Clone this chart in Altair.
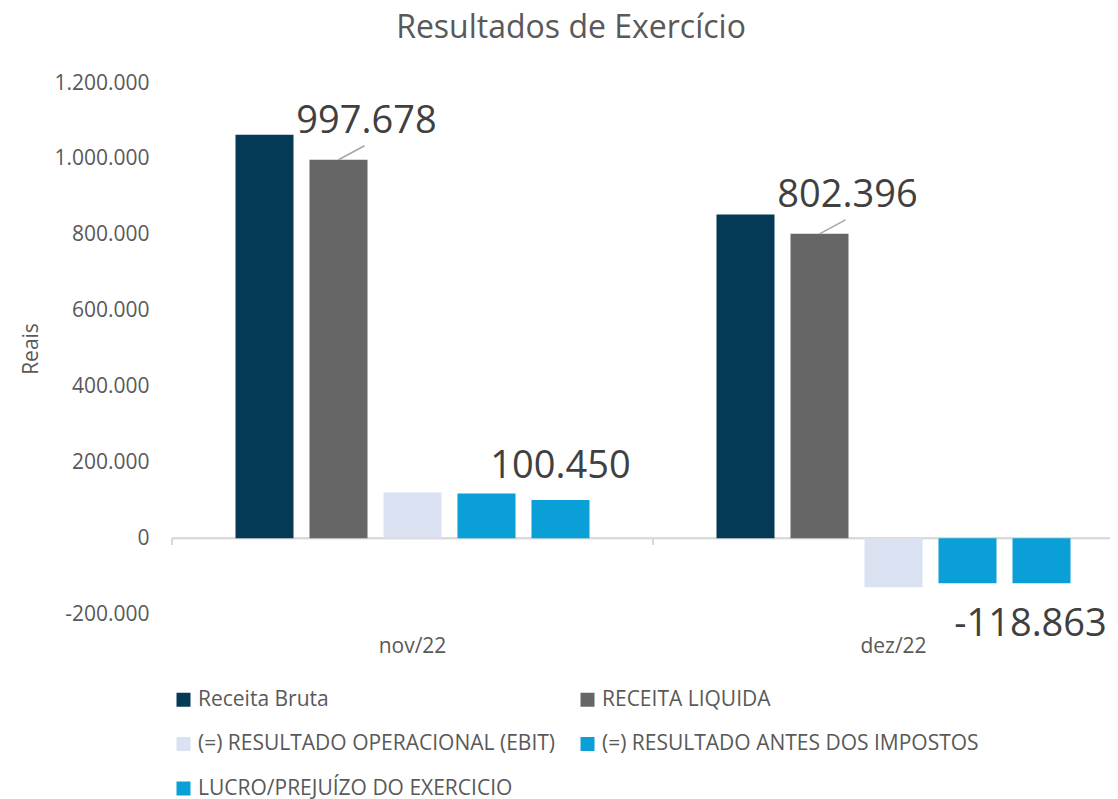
import altair as alt
import pandas as pd

months = ["nov/22", "dez/22"]
series = [
    "Receita Bruta",
    "RECEITA LIQUIDA",
    "(=) RESULTADO OPERACIONAL (EBIT)",
    "(=) RESULTADO ANTES DOS IMPOSTOS",
    "LUCRO/PREJUÍZO DO EXERCICIO",
]
receita_bruta = [1063600, 853000]
receita_liquida = [997678, 802396]
ebit = [120300, -129700]
antes_impostos = [117600, -118900]
lucro = [100450, -118863]
colors = ["#043A56", "#666666", "#DAE1F1", "#0A9FD6", "#0A9FD6"]

values_by_series = [receita_bruta, receita_liquida, ebit, antes_impostos, lucro]
rows = []
for s, vals in zip(series, values_by_series):
    for m, v in zip(months, vals):
        rows.append({"mes": m, "serie": s, "valor": v})
df = pd.DataFrame(rows)
df_months = pd.DataFrame({"mes": months})

FONT = "Open Sans"
TXT = "#595959"
fmt = "replace(replace(format(datum.valor, ',.0f'), regexp(',', 'g'), '.'), '\u2212', '-')"
axis_fmt = "replace(replace(format(datum.value, ',.0f'), regexp(',', 'g'), '.'), '\u2212', '-')"

x_scale = alt.Scale(domain=months, range=[0, 962], paddingInner=0, paddingOuter=0)
y_scale = alt.Scale(domain=[-200000, 1200000], nice=False, zero=False)
off_scale = alt.Scale(domain=series, paddingInner=0.216, paddingOuter=0.858)

base = alt.Chart(df)

bars = base.mark_bar().encode(
    x=alt.X("mes:N", sort=months, scale=x_scale,
            axis=alt.Axis(title=None, domain=False, ticks=False, labelAngle=0, labelAlign="center",
                          labelFont=FONT, labelFontSize=21, labelColor=TXT, labelPadding=32)),
    xOffset=alt.XOffset("serie:N", sort=series, scale=off_scale),
    y=alt.Y("valor:Q", scale=y_scale,
            axis=alt.Axis(title="Reais", values=[-200000, 0, 200000, 400000, 600000, 800000, 1000000, 1200000],
                          labelExpr=axis_fmt, domain=False, ticks=False, grid=False,
                          labelFont=FONT, labelFontSize=21, labelColor=TXT, labelPadding=23,
                          titleFont=FONT, titleFontSize=21, titleColor=TXT, titleFontWeight="normal",
                          titlePadding=12)),
    color=alt.Color("serie:N", sort=series, scale=alt.Scale(domain=series, range=colors),
                    legend=alt.Legend(title=None, orient="none", legendX=1, legendY=606, columns=2,
                                      direction="horizontal",
                                      symbolType="square", symbolSize=196, symbolStrokeWidth=0,
                                      labelFont=FONT, labelFontSize=21, labelColor=TXT,
                                      labelOffset=4, columnPadding=22, rowPadding=22.5, padding=0,
                                      labelLimit=500)),
)

zero_line = alt.Chart(df_months).mark_rule(color="#D9D9D9", strokeWidth=2).encode(
    y=alt.datum(0, scale=y_scale)
)

ticks = alt.Chart(df_months).mark_rule(color="#D9D9D9", strokeWidth=2).encode(
    x=alt.X("mes:N", sort=months, bandPosition=0),
    y=alt.datum(0),
    y2=alt.datum(-18000),
)

liq = base.transform_filter(alt.datum.serie == "RECEITA LIQUIDA").transform_calculate(label=fmt)
# x2 is not shifted by xOffset: it sits at the band middle, so its pixel offset brings it
# back to the bar centre plus the leader's run.
leader = liq.mark_rule(color="#A6A6A6", strokeWidth=1.5, x2Offset=-48, y2Offset=-14).encode(
    x=alt.X("mes:N", sort=months),
    x2=alt.X2("mes:N"),
    xOffset=alt.XOffset("serie:N", sort=series),
    y="valor:Q",
    y2=alt.Y2("valor:Q"),
)
liq_text = liq.mark_text(font=FONT, fontSize=38, color="#404040", baseline="alphabetic",
                         align="center", dx=28, dy=-27).encode(
    x=alt.X("mes:N", sort=months),
    xOffset=alt.XOffset("serie:N", sort=series),
    y="valor:Q",
    text="label:N",
)

luc = base.transform_filter(alt.datum.serie == "LUCRO/PREJUÍZO DO EXERCICIO").transform_calculate(label=fmt)
luc_pos = luc.transform_filter(alt.datum.valor >= 0).mark_text(
    font=FONT, fontSize=38, color="#404040", baseline="alphabetic", align="center", dy=-22).encode(
    x=alt.X("mes:N", sort=months),
    xOffset=alt.XOffset("serie:N", sort=series),
    y="valor:Q",
    text="label:N",
)
luc_neg = luc.transform_filter(alt.datum.valor < 0).mark_text(
    font=FONT, fontSize=38, color="#404040", baseline="alphabetic", align="center",
    dx=-11, dy=53).encode(
    x=alt.X("mes:N", sort=months),
    xOffset=alt.XOffset("serie:N", sort=series),
    y="valor:Q",
    text="label:N",
)

chart = alt.layer(zero_line, ticks, bars, leader, liq_text, luc_pos, luc_neg).properties(
    width=938,
    height=531,
    autosize=alt.AutoSizeParams(type="none"),
    padding={"left": 164, "top": 75, "right": 0, "bottom": 185},
    title=alt.TitleParams("Resultados de Exercício", font=FONT, fontSize=32, fontWeight="normal",
                          color=TXT, anchor="middle", dx=-70, offset=27),
).configure_view(stroke=None)

chart.save("out.html", embed_options={"renderer": "svg", "actions": False})
